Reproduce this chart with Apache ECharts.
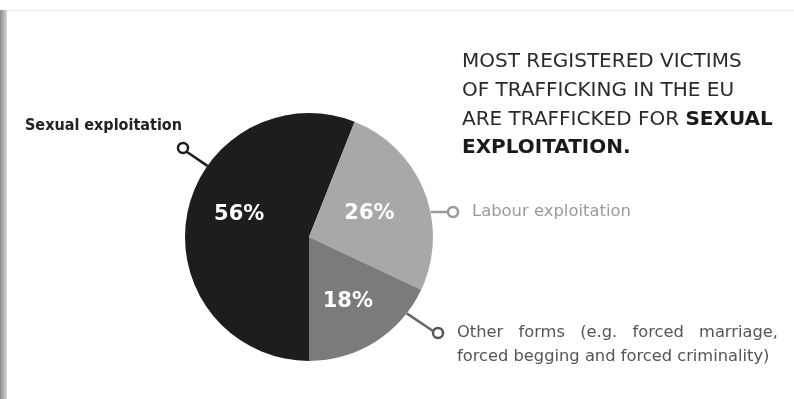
<!DOCTYPE html>
<html><head><meta charset="utf-8">
<script src="https://cdn.jsdelivr.net/npm/echarts@6/dist/echarts.min.js"></script>
<style>html,body{margin:0;padding:0;background:#fff}#c{width:794px;height:399px}</style>
</head><body><div id="c"></div>
<script>
const categories = ['Sexual exploitation', 'Labour exploitation', 'Other forms'];
const values = [56, 26, 18];
const colors = ['#1d1d1d', '#a8a8a8', '#7b7b7b'];
const titleLines = ['MOST REGISTERED VICTIMS', 'OF TRAFFICKING IN THE EU', 'ARE TRAFFICKED FOR ', 'SEXUAL', 'EXPLOITATION.'];
const otherLine1 = ['Other', 'forms', '(e.g.', 'forced', 'marriage,'];
const otherLine2 = 'forced begging and forced criminality)';

const FONT = '"DejaVu Sans"';
const cx = 309, cy = 237, R = 124;
function edge(angDeg, r) { const a = angDeg * Math.PI / 180; return [cx + r * Math.sin(a), cy - r * Math.cos(a)]; }

const chart = echarts.init(document.getElementById('c'), null, {renderer: 'canvas'});

const smallFont = '16.3px ' + FONT;
const cv = document.createElement('canvas').getContext('2d');
cv.font = smallFont;
const x0 = 457, x1 = 778;
const widths = otherLine1.map(w => cv.measureText(w).width);
const total = widths.reduce((a, b) => a + b, 0);
const gap = (x1 - x0 - total) / (otherLine1.length - 1);
let px = x0;
const wordEls = otherLine1.map((w, i) => { const el = {type: 'text', style: {x: px, y: 333, text: w, font: smallFont, fill: '#555', verticalAlign: 'middle'}}; px += widths[i] + gap; return el; });

const pSex = edge(-55, R), pLab = edge(79, R), pOth = edge(128, R);
const tNorm = '20px ' + FONT, tBold = 'bold 20px ' + FONT;
const titleY = [62, 90.5, 119.5, 147.5];

const graphic = [
  {type: 'rect', shape: {x: 0, y: 10, width: 7, height: 389}, style: {fill: new echarts.graphic.LinearGradient(0, 0, 1, 0, [{offset: 0, color: '#8a8a8a'}, {offset: 1, color: '#d8d8d8'}])}},
  {type: 'rect', shape: {x: 7, y: 10, width: 787, height: 1}, style: {fill: '#ececec'}},
  {type: 'text', style: {x: 462, y: titleY[0], text: titleLines[0], font: tNorm, fill: '#2a2a2a', verticalAlign: 'middle'}},
  {type: 'text', style: {x: 462, y: titleY[1], text: titleLines[1], font: tNorm, fill: '#2a2a2a', verticalAlign: 'middle'}},
  {type: 'text', style: {x: 462, y: titleY[2], verticalAlign: 'middle', text: '{n|' + titleLines[2] + '}{b|' + titleLines[3] + '}',
    rich: {n: {font: tNorm, fill: '#2a2a2a'}, b: {font: tBold, fill: '#1a1a1a'}}}},
  {type: 'text', style: {x: 462, y: titleY[3], text: titleLines[4], font: tBold, fill: '#1a1a1a', verticalAlign: 'middle'}},
  {type: 'text', style: {x: 25, y: 126, text: categories[0], font: 'bold 16px "DejaVu Sans Condensed", "DejaVu Sans"', fill: '#222', verticalAlign: 'middle'}},
  {type: 'line', shape: {x1: 187, y1: 152, x2: pSex[0], y2: pSex[1]}, style: {stroke: '#1d1d1d', lineWidth: 2.5}},
  {type: 'circle', shape: {cx: 183, cy: 148, r: 5}, style: {fill: '#fff', stroke: '#1d1d1d', lineWidth: 2.5}},
  {type: 'text', style: {x: 472, y: 212, text: categories[1], font: '16.4px ' + FONT, fill: '#9a9a9a', verticalAlign: 'middle'}},
  {type: 'line', shape: {x1: pLab[0], y1: 212, x2: 448, y2: 212}, style: {stroke: '#9a9a9a', lineWidth: 2.5}},
  {type: 'circle', shape: {cx: 453, cy: 212, r: 5}, style: {fill: '#fff', stroke: '#9a9a9a', lineWidth: 2.5}},
  {type: 'line', shape: {x1: pOth[0], y1: pOth[1], x2: 433, y2: 331}, style: {stroke: '#666', lineWidth: 2.5}},
  {type: 'circle', shape: {cx: 438, cy: 333, r: 5}, style: {fill: '#fff', stroke: '#555', lineWidth: 2.5}},
  ...wordEls,
  {type: 'text', style: {x: 457, y: 357, text: otherLine2, font: smallFont, fill: '#555', verticalAlign: 'middle'}}
];

const labelNudge = [[-6, -10], [0, 0], [4, 10]];

chart.setOption({
  animation: false,
  backgroundColor: '#fff',
  graphic: graphic,
  series: [{
    type: 'pie',
    center: [cx, cy],
    radius: R,
    startAngle: -90,
    clockwise: true,
    silent: true,
    itemStyle: {borderWidth: 0},
    label: {show: true, position: 'inside', formatter: '{c}%', color: '#fff', fontFamily: FONT, fontWeight: 'bold', fontSize: 21},
    labelLine: {show: false},
    labelLayout: function (p) { const d = labelNudge[p.dataIndex]; return {dx: d[0], dy: d[1]}; },
    data: categories.map((n, i) => ({name: n, value: values[i], itemStyle: {color: colors[i]}}))
  }]
});
</script></body></html>
